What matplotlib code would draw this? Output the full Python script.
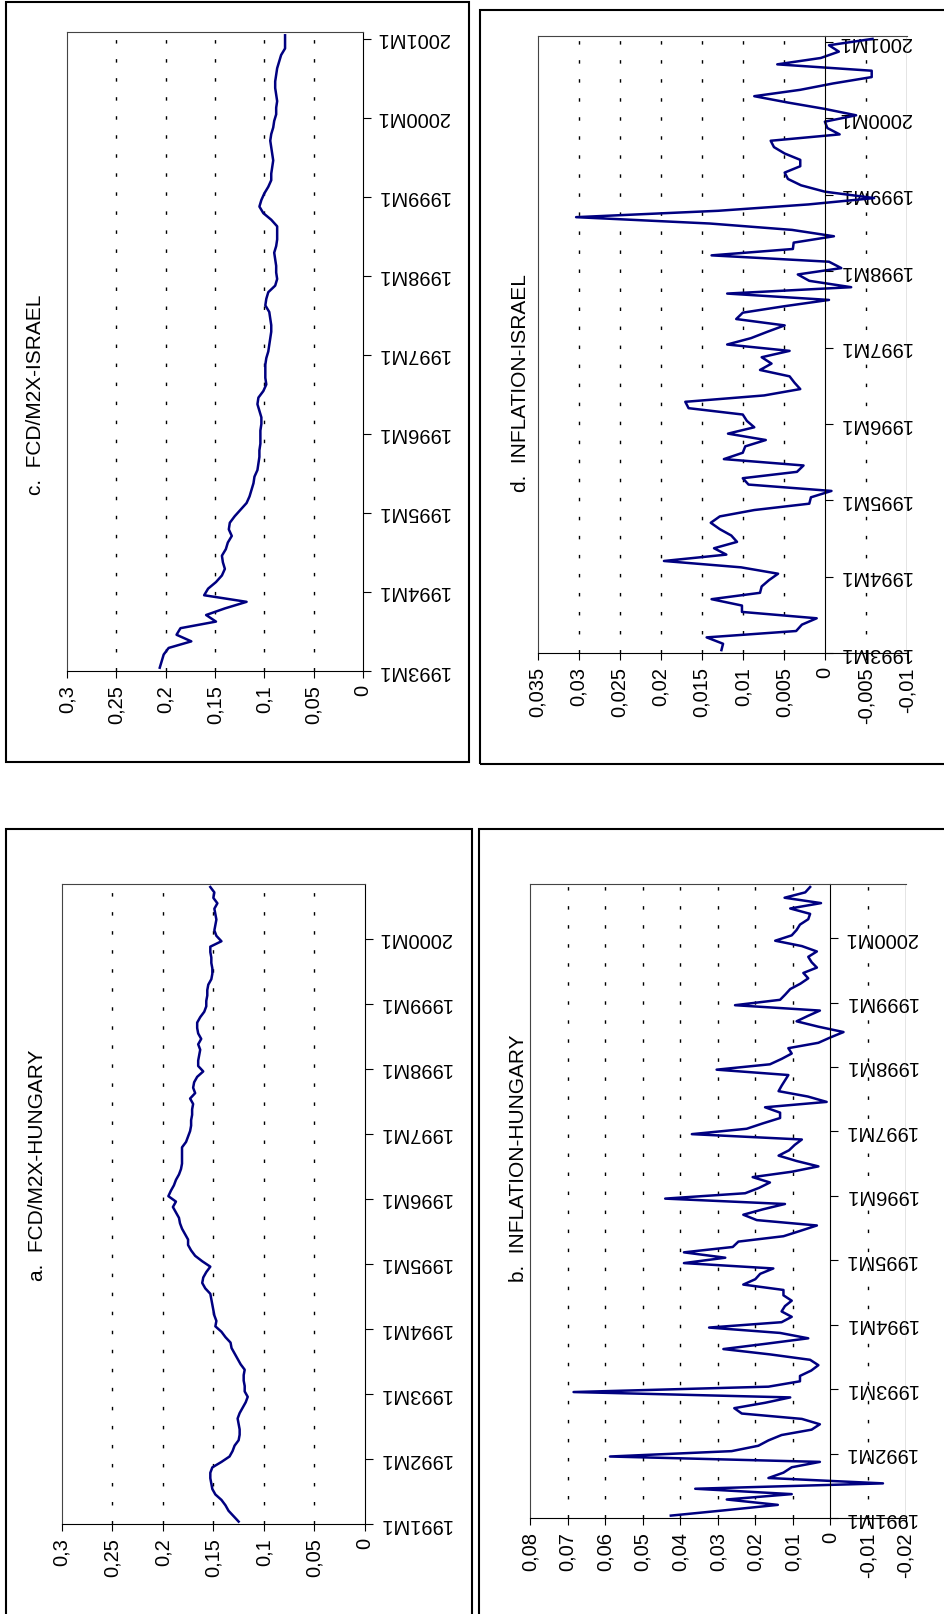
import matplotlib
matplotlib.use('Agg')
import matplotlib.pyplot as plt
from matplotlib.patches import Rectangle
import numpy as np

plt.rcParams['font.family'] = ['Liberation Sans', 'DejaVu Sans']

W, H = 944, 1614

# Monthly series
# c. FCD/M2X Israel, 1993M1 - 2001M1
israel_fcd = [0.206, 0.204, 0.202, 0.197, 0.174, 0.189, 0.185, 0.149, 0.159, 0.140,
              0.118, 0.161, 0.157, 0.149, 0.143, 0.140, 0.142, 0.143, 0.139, 0.137,
              0.133, 0.136, 0.135, 0.130, 0.124, 0.118, 0.115, 0.113, 0.111, 0.110,
              0.107, 0.106, 0.105, 0.105, 0.104, 0.104, 0.104, 0.103, 0.103, 0.105,
              0.107, 0.106, 0.101, 0.098, 0.099, 0.099, 0.099, 0.098, 0.096, 0.095,
              0.094, 0.093, 0.093, 0.094, 0.095, 0.099, 0.098, 0.096, 0.089, 0.087,
              0.088, 0.088, 0.089, 0.090, 0.088, 0.087, 0.087, 0.087, 0.093, 0.101,
              0.105, 0.103, 0.100, 0.096, 0.093, 0.093, 0.092, 0.091, 0.092, 0.093,
              0.094, 0.093, 0.091, 0.090, 0.088, 0.088, 0.087, 0.088, 0.089, 0.089,
              0.088, 0.087, 0.085, 0.083, 0.079, 0.079, 0.079]

# d. Inflation Israel, 1993M1 - 2001M1
israel_inf = [0.0126, 0.0124, 0.0144, 0.0035, 0.0028, 0.0010, 0.0101, 0.0101, 0.0138, 0.0079,
              0.0077, 0.0068, 0.0057, 0.0102, 0.0196, 0.0120, 0.0135, 0.0107, 0.0114, 0.0128,
              0.0139, 0.0128, 0.0086, 0.0019, 0.0017, -0.0008, 0.0093, 0.0100, 0.0034, 0.0026,
              0.0123, 0.0100, 0.0097, 0.0072, 0.0118, 0.0086, 0.0095, 0.0100, 0.0166, 0.0170,
              0.0074, 0.0030, 0.0037, 0.0043, 0.0079, 0.0065, 0.0077, 0.0043, 0.0119, 0.0090,
              0.0070, 0.0049, 0.0108, 0.0100, 0.0050, -0.0005, 0.0119, -0.0032, 0.0019, 0.0033,
              -0.0020, -0.0005, 0.0138, 0.0039, 0.0038, -0.0011, 0.0040, 0.0140, 0.0303, 0.0130,
              0.0020, -0.0060, 0.0000, 0.0029, 0.0045, 0.0049, 0.0030, 0.0030, 0.0049, 0.0062,
              0.0066, -0.0018, -0.0003, 0.0000, -0.0038, 0.0000, 0.0045, 0.0086, 0.0030, -0.0010,
              -0.0057, -0.0057, 0.0058, 0.0005, -0.0017, -0.0005, -0.0058]

# a. FCD/M2X Hungary, 1991M1 - 2000M10
hungary_fcd = [0.125, 0.130, 0.135, 0.138, 0.142, 0.148, 0.151, 0.152, 0.153, 0.153,
               0.151, 0.142, 0.134, 0.131, 0.129, 0.125, 0.124, 0.124, 0.125, 0.126,
               0.124, 0.121, 0.118, 0.116, 0.119, 0.119, 0.120, 0.120, 0.119, 0.123,
               0.126, 0.129, 0.132, 0.133, 0.138, 0.142, 0.148, 0.147, 0.149, 0.150,
               0.151, 0.152, 0.153, 0.158, 0.161, 0.160, 0.157, 0.153, 0.161, 0.168,
               0.172, 0.175, 0.175, 0.178, 0.181, 0.183, 0.184, 0.187, 0.190, 0.187,
               0.1945, 0.192, 0.189, 0.187, 0.184, 0.182, 0.181, 0.181, 0.181, 0.181,
               0.177, 0.175, 0.173, 0.172, 0.172, 0.171, 0.171, 0.170, 0.173, 0.168,
               0.170, 0.169, 0.166, 0.160, 0.165, 0.165, 0.164, 0.163, 0.165, 0.162,
               0.165, 0.166, 0.166, 0.163, 0.159, 0.157, 0.157, 0.156, 0.156, 0.155,
               0.152, 0.151, 0.151, 0.152, 0.152, 0.153, 0.153, 0.142, 0.147, 0.149,
               0.148, 0.147, 0.148, 0.149, 0.146, 0.150, 0.149, 0.153]

# b. Inflation Hungary, 1991M1 - 2000M10
hungary_inf = [0.0425, 0.0280, 0.0140, 0.0276, 0.0103, 0.0360, -0.0140, 0.0165, 0.0125, 0.0103,
               0.0028, 0.0587, 0.0263, 0.0192, 0.0165, 0.0130, 0.0050, 0.0028, 0.0076, 0.0236,
               0.0256, 0.0174, 0.0107, 0.0684, 0.0165, 0.0081, 0.0081, 0.0051, 0.0032, 0.0054,
               0.0160, 0.0285, 0.0170, 0.0059, 0.0134, 0.0323, 0.0130, 0.0103, 0.0130, 0.0121,
               0.0103, 0.0125, 0.0125, 0.0232, 0.0200, 0.0187, 0.0152, 0.0390, 0.0280, 0.0390,
               0.0260, 0.0245, 0.0125, 0.0080, 0.0036, 0.0196, 0.0232, 0.0180, 0.0121, 0.0440,
               0.0227, 0.0190, 0.0161, 0.0207, 0.0103, 0.0032, 0.0090, 0.0138, 0.0110, 0.0095,
               0.0076, 0.0369, 0.0223, 0.0180, 0.0134, 0.0134, 0.0174, 0.0010, 0.0060, 0.0138,
               0.0130, 0.0121, 0.0112, 0.0303, 0.0161, 0.0130, 0.0103, 0.0112, 0.0032, 0.0000,
               -0.0035, 0.0032, 0.0090, 0.0060, 0.0028, 0.0254, 0.0134, 0.0120, 0.0107, 0.0080,
               0.0059, 0.0072, 0.0036, 0.0050, 0.0059, 0.0036, 0.0076, 0.0147, 0.0103, 0.0090,
               0.0081, 0.0059, 0.0054, 0.0107, 0.0025, 0.0122, 0.0067, 0.0054]

titles = ['c.  FCD/M2X-ISRAEL', 'd.  INFLATION-ISRAEL',
          'a.  FCD/M2X-HUNGARY', 'b.  INFLATION-HUNGARY']

lineColour = '#000080'
font_tick = 14.5
font_title = 15

fig = plt.figure(figsize=(W / 100, H / 100), dpi=100)


def fmt(v):
    if abs(v) < 1e-12:
        return '0'
    s = ('%.3f' % v).rstrip('0').rstrip('.')
    return s.replace('.', ',')


def panel(rect, values, start_year, vmin, vmax, step):
    x0, y0, x1, y1 = rect
    ax = fig.add_axes([x0 / W, 1 - y1 / H, (x1 - x0) / W, (y1 - y0) / H])
    n = len(values)
    ax.plot(values, np.arange(n), color=lineColour, lw=1.8)
    ax.set_xlim(vmax, vmin)
    ax.set_ylim(-0.5, n - 0.5)

    ticks = np.round(np.arange(vmin, vmax + step / 2, step), 4)
    for t in ticks:
        if t != vmin and t != vmax and t != 0:
            ax.axvline(t, color='black', lw=1, dashes=(2.5, 11.2), zorder=0)

    ax.spines['top'].set_color('#444444')
    ax.spines['left'].set_color('#444444')
    ax.spines['right'].set_position(('data', 0))
    ax.spines['right'].set_color('black')
    ax.spines['bottom'].set_color('black')
    if vmin < 0:
        ax.axvline(vmin, color='#777777', lw=1)

    ax.set_xticks(ticks)
    ax.set_xticklabels([fmt(t) for t in ticks])
    ax.tick_params(axis='x', direction='out', length=5, pad=5,
                   labelsize=font_tick, labelrotation=90)

    ypos = np.arange(-0.5, n - 0.5, 12)
    ax.yaxis.tick_right()
    ax.set_yticks(ypos)
    ax.set_yticklabels(['%dM1' % (start_year + k) for k in range(len(ypos))])
    ax.tick_params(axis='y', direction='out', length=6, pad=4,
                   labelsize=font_tick, labelrotation=180)
    for lab in ax.get_yticklabels():
        lab.set_va('center')
    return ax


panel((67, 32, 363, 671), israel_fcd, 1993, 0, 0.3, 0.05)
panel((537.5, 35.7, 907, 653.3), israel_inf, 1993, -0.01, 0.035, 0.005)
panel((61.7, 884.3, 365, 1524.3), hungary_fcd, 1991, 0, 0.3, 0.05)
panel((530, 884.3, 905.5, 1518.3), hungary_inf, 1991, -0.02, 0.08, 0.01)

# Panel frames
frames = [(6, 2, 469, 762), (480, 10, 946, 764), (6, 829, 472, 1616), (479, 829, 946, 1616)]
for fx0, fy0, fx1, fy1 in frames:
    fig.add_artist(Rectangle((fx0 / W, 1 - fy1 / H), (fx1 - fx0) / W, (fy1 - fy0) / H,
                             transform=fig.transFigure, fill=False, lw=1.5, ec='black'))

# Titles (rotated page)
title_pos = [(36, 395), (520, 383), (38, 1165), (518, 1158)]
for (tx, ty), t in zip(title_pos, titles):
    fig.text(tx / W, 1 - ty / H, t, rotation=90, ha='center', va='center', fontsize=font_title)

plt.savefig('out.png', dpi=100)
